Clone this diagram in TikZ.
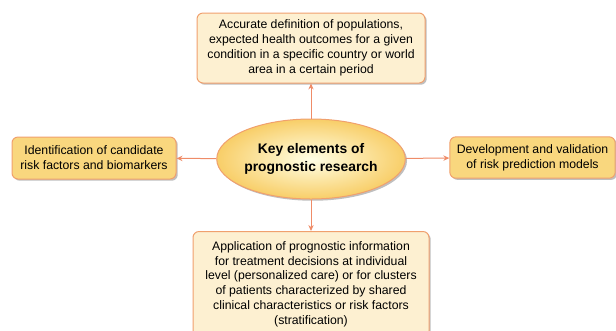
\documentclass[tikz,border=0pt]{standalone}
\usepackage{fontspec}
\setmainfont{Liberation Sans}
\usetikzlibrary{shapes.geometric,shadows,arrows.meta}

\definecolor{paleFill}{RGB}{253,240,209}
\definecolor{sideFill}{RGB}{249,215,126}
\definecolor{boxLine}{RGB}{240,160,110}
\definecolor{linkLine}{RGB}{239,140,104}
\definecolor{hubOuter}{RGB}{248,206,104}

\tikzset{every picture/.style={line width=0.75pt}}
\tikzset{
  elembox/.style={draw=boxLine, rounded corners=4.5pt, align=center, inner sep=2pt,
    font=\fontsize{9.2}{11.1}\selectfont,
    drop shadow={shadow xshift=1.3pt, shadow yshift=-1.3pt, opacity=0.25, fill=black}},
  palebox/.style={elembox, fill=paleFill},
  sidebox/.style={elembox, fill=sideFill},
  hub/.style={ellipse, draw=boxLine, inner sep=0pt, align=center,
    inner color=white!90!yellow, outer color=hubOuter,
    font=\bfseries\fontsize{10.4}{13.6}\selectfont,
    drop shadow={shadow xshift=1.3pt, shadow yshift=-1.3pt, opacity=0.25, fill=black}},
  link/.style={draw=linkLine, -{Stealth[length=4.5pt,width=4pt]}}
}

\begin{document}
\begin{tikzpicture}[x=0.75pt,y=0.75pt,yscale=-1,xscale=1]
\useasboundingbox (0,0) rectangle (616,330);
\clip (0,0) rectangle (616,330);

% centre
\node[hub, minimum width=118.5pt, minimum height=60pt] (key) at (311,159)
  {Key elements of\\prognostic research};

% top
\node[palebox, minimum width=171pt, minimum height=52.5pt] (pop) at (311,48)
  {Accurate definition of populations,\\expected health outcomes for a given\\condition in a specific country or world\\area in a certain period};
% left
\node[sidebox, minimum width=123pt, minimum height=31.5pt] (risk) at (94,158)
  {Identification of candidate\\risk factors and biomarkers};
% right
\node[sidebox, minimum width=124pt, minimum height=31pt] (model) at (532.5,157.5)
  {Development and validation\\of risk prediction models};
% bottom
\node[palebox, minimum width=177pt, minimum height=79pt, anchor=north] (care) at (311,231)
  {Application of prognostic information\\for treatment decisions at individual\\level (personalized care) or for clusters\\of patients characterized by shared\\clinical characteristics or risk factors\\(stratification)};

% links
\draw[link] (key) -- (pop);
\draw[link] (key) -- (risk);
\draw[link] (key) -- (model);
\draw[link] (key) -- (care);

\end{tikzpicture}
\end{document}
